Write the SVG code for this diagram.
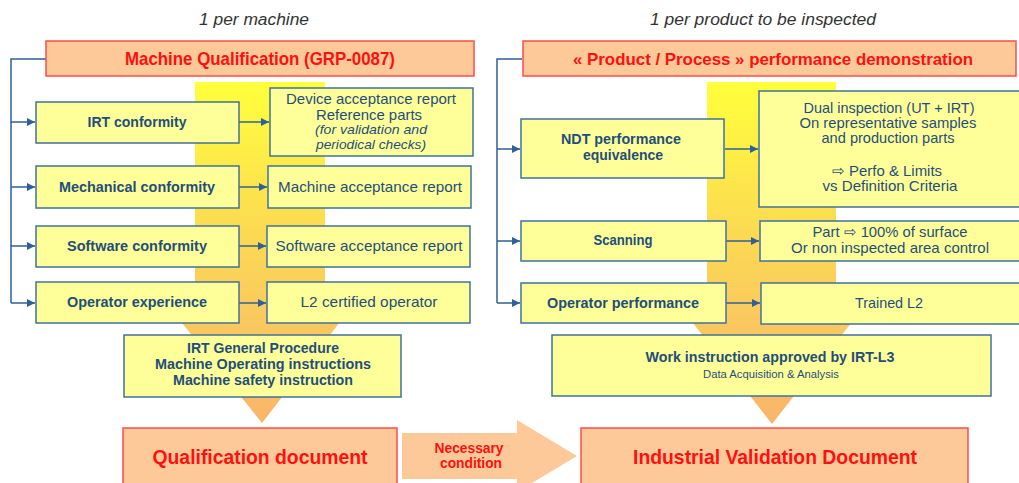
<svg xmlns="http://www.w3.org/2000/svg" width="1019" height="483" viewBox="0 0 1019 483">
  <defs>
    <linearGradient id="flowGrad" gradientUnits="userSpaceOnUse" x1="0" y1="82" x2="0" y2="424">
      <stop offset="0" stop-color="#FFFF3C"/>
      <stop offset="0.4" stop-color="#FCDD50"/>
      <stop offset="0.75" stop-color="#F9C561"/>
      <stop offset="1" stop-color="#F8B56A"/>
    </linearGradient>
    <marker id="arrowHead" viewBox="0 0 10 10" refX="10" refY="5" markerWidth="8" markerHeight="8" markerUnits="userSpaceOnUse" orient="auto">
      <path d="M0,0 L10,5 L0,10 Z" fill="#2E6096"/>
    </marker>
  </defs>
  <style>
    .hdr { fill: #FDC998; stroke: #FF4B4B; stroke-width: 1.5; }
    .box { fill: #FFFF99; stroke: #41719C; stroke-width: 1.5; }
    .t { font-family: "Liberation Sans", Arial, sans-serif; fill: #1F4E79; text-anchor: middle; }
    .b { font-weight: bold; }
    .it { font-style: italic; }
    .red { fill: #FF1010; font-weight: bold; }
    .note { font-family: "Liberation Sans", Arial, sans-serif; font-style: italic; fill: #333333; text-anchor: middle; font-size: 16px; }
    .conn { fill: none; stroke: #2E6096; stroke-width: 1.5; }
    .flow { fill: url(#flowGrad); }
  </style>

  <!-- background flow arrows -->
  <g id="flows">
    <path class="flow" d="M195,82 H325 V318 H343 L262,423 L178,318 H195 Z"/>
    <path class="flow" d="M707,82 H836 V318 H855 L772,424 L689,318 H707 Z"/>
    <path id="necessary-arrow" d="M402,433 H517 V420 L577,456 L517,492 V479 H402 Z" fill="#FDC998"/>
  </g>

  <!-- column captions -->
  <text class="note" x="254" y="25" textLength="110" lengthAdjust="spacingAndGlyphs">1 per machine</text>
  <text class="note" x="763" y="25" textLength="226" lengthAdjust="spacingAndGlyphs">1 per product to be inspected</text>

  <!-- connectors -->
  <g id="connectors">
    <path class="conn" d="M46,59 H11 V303"/>
    <path class="conn" d="M11,122 H35" marker-end="url(#arrowHead)"/>
    <path class="conn" d="M11,187 H35" marker-end="url(#arrowHead)"/>
    <path class="conn" d="M11,246 H35" marker-end="url(#arrowHead)"/>
    <path class="conn" d="M11,303 H35" marker-end="url(#arrowHead)"/>
    <path class="conn" d="M239,122 H269" marker-end="url(#arrowHead)"/>
    <path class="conn" d="M239,187 H267" marker-end="url(#arrowHead)"/>
    <path class="conn" d="M239,246 H266" marker-end="url(#arrowHead)"/>
    <path class="conn" d="M239,303 H266" marker-end="url(#arrowHead)"/>

    <path class="conn" d="M522,59 H497 V303"/>
    <path class="conn" d="M497,149 H520" marker-end="url(#arrowHead)"/>
    <path class="conn" d="M497,241 H520" marker-end="url(#arrowHead)"/>
    <path class="conn" d="M497,303 H520" marker-end="url(#arrowHead)"/>
    <path class="conn" d="M725,149 H758" marker-end="url(#arrowHead)"/>
    <path class="conn" d="M726,241 H759" marker-end="url(#arrowHead)"/>
    <path class="conn" d="M726,303 H760" marker-end="url(#arrowHead)"/>
  </g>

  <!-- machine qualification column -->
  <g id="machine-qualification">
    <rect class="hdr" x="46" y="41" width="428" height="35"/>
    <text class="t red" x="260" y="65" font-size="19" textLength="270" lengthAdjust="spacingAndGlyphs">Machine Qualification (GRP-0087)</text>
  </g>
  <g id="irt-conformity">
    <rect class="box" x="36" y="102" width="203" height="41"/>
    <text class="t b" x="137" y="127" font-size="15" textLength="99" lengthAdjust="spacingAndGlyphs">IRT conformity</text>
  </g>
  <g id="device-acceptance">
    <rect class="box" x="270" y="88" width="203" height="68"/>
    <text class="t" x="371" y="104" font-size="15" textLength="170" lengthAdjust="spacingAndGlyphs">Device acceptance report</text>
    <text class="t" x="369" y="120" font-size="15" textLength="106" lengthAdjust="spacingAndGlyphs">Reference parts</text>
    <text class="t it" x="371" y="134" font-size="13.5" textLength="112" lengthAdjust="spacingAndGlyphs">(for validation and</text>
    <text class="t it" x="371" y="149" font-size="13.5" textLength="110" lengthAdjust="spacingAndGlyphs">periodical checks)</text>
  </g>
  <g id="mechanical-conformity">
    <rect class="box" x="36" y="166" width="203" height="42"/>
    <text class="t b" x="137" y="192" font-size="15" textLength="156" lengthAdjust="spacingAndGlyphs">Mechanical conformity</text>
  </g>
  <g id="machine-acceptance">
    <rect class="box" x="268" y="166" width="203" height="42"/>
    <text class="t" x="370" y="192" font-size="15" textLength="184" lengthAdjust="spacingAndGlyphs">Machine acceptance report</text>
  </g>
  <g id="software-conformity">
    <rect class="box" x="36" y="226" width="203" height="41"/>
    <text class="t b" x="137" y="251" font-size="15" textLength="140" lengthAdjust="spacingAndGlyphs">Software conformity</text>
  </g>
  <g id="software-acceptance">
    <rect class="box" x="267" y="226" width="203" height="41"/>
    <text class="t" x="369" y="251" font-size="15" textLength="187" lengthAdjust="spacingAndGlyphs">Software acceptance report</text>
  </g>
  <g id="operator-experience">
    <rect class="box" x="36" y="282" width="203" height="41"/>
    <text class="t b" x="137" y="307" font-size="15" textLength="140" lengthAdjust="spacingAndGlyphs">Operator experience</text>
  </g>
  <g id="l2-certified">
    <rect class="box" x="267" y="282" width="203" height="41"/>
    <text class="t" x="369" y="307" font-size="15" textLength="137" lengthAdjust="spacingAndGlyphs">L2 certified operator</text>
  </g>
  <g id="general-procedure">
    <rect class="box" x="124" y="335" width="277" height="62"/>
    <text class="t b" x="263" y="353" font-size="15" textLength="152" lengthAdjust="spacingAndGlyphs">IRT General Procedure</text>
    <text class="t b" x="263" y="369" font-size="15" textLength="216" lengthAdjust="spacingAndGlyphs">Machine Operating instructions</text>
    <text class="t b" x="263" y="385" font-size="15" textLength="180" lengthAdjust="spacingAndGlyphs">Machine safety instruction</text>
  </g>
  <g id="qualification-document">
    <rect class="hdr" x="123" y="428" width="274" height="64"/>
    <text class="t red" x="260" y="464" font-size="21" textLength="215" lengthAdjust="spacingAndGlyphs">Qualification document</text>
  </g>
  <g id="necessary-condition">
    <text class="t red" x="469" y="453" font-size="14" textLength="69" lengthAdjust="spacingAndGlyphs">Necessary</text>
    <text class="t red" x="471" y="468" font-size="14" textLength="62" lengthAdjust="spacingAndGlyphs">condition</text>
  </g>

  <!-- product / process column -->
  <g id="performance-demonstration">
    <rect class="hdr" x="523" y="41" width="493" height="35"/>
    <text class="t red" x="773" y="65" font-size="17" textLength="400" lengthAdjust="spacingAndGlyphs">« Product / Process » performance demonstration</text>
  </g>
  <g id="ndt-equivalence">
    <rect class="box" x="521" y="119" width="203" height="59"/>
    <text class="t b" x="621" y="144" font-size="15" textLength="120" lengthAdjust="spacingAndGlyphs">NDT performance</text>
    <text class="t b" x="623" y="160" font-size="15" textLength="80" lengthAdjust="spacingAndGlyphs">equivalence</text>
  </g>
  <g id="dual-inspection">
    <rect class="box" x="759" y="91" width="262" height="116"/>
    <text class="t" x="889" y="113" font-size="15" textLength="171" lengthAdjust="spacingAndGlyphs">Dual inspection (UT + IRT)</text>
    <text class="t" x="888" y="128" font-size="15" textLength="177" lengthAdjust="spacingAndGlyphs">On representative samples</text>
    <text class="t" x="888" y="143" font-size="15" textLength="133" lengthAdjust="spacingAndGlyphs">and production parts</text>
    <text class="t" x="887" y="176" font-size="15" textLength="110" lengthAdjust="spacingAndGlyphs">⇨ Perfo &amp; Limits</text>
    <text class="t" x="890" y="191" font-size="15" textLength="135" lengthAdjust="spacingAndGlyphs">vs Definition Criteria</text>
  </g>
  <g id="scanning">
    <rect class="box" x="521" y="221" width="205" height="40"/>
    <text class="t b" x="623" y="245" font-size="15" textLength="59" lengthAdjust="spacingAndGlyphs">Scanning</text>
  </g>
  <g id="surface-coverage">
    <rect class="box" x="760" y="221" width="261" height="40"/>
    <text class="t" x="890" y="237" font-size="15" textLength="155" lengthAdjust="spacingAndGlyphs">Part ⇨ 100% of surface</text>
    <text class="t" x="890" y="253" font-size="15" textLength="198" lengthAdjust="spacingAndGlyphs">Or non inspected area control</text>
  </g>
  <g id="operator-performance">
    <rect class="box" x="521" y="283" width="205" height="40"/>
    <text class="t b" x="623" y="308" font-size="15" textLength="152" lengthAdjust="spacingAndGlyphs">Operator performance</text>
  </g>
  <g id="trained-l2">
    <rect class="box" x="761" y="283" width="260" height="41"/>
    <text class="t" x="889" y="308" font-size="15" textLength="68" lengthAdjust="spacingAndGlyphs">Trained L2</text>
  </g>
  <g id="work-instruction">
    <rect class="box" x="552" y="335" width="439" height="61"/>
    <text class="t b" x="770" y="362" font-size="15" textLength="249" lengthAdjust="spacingAndGlyphs">Work instruction approved by IRT-L3</text>
    <text class="t" x="771" y="378" font-size="10" textLength="136" lengthAdjust="spacingAndGlyphs">Data Acquisition &amp; Analysis</text>
  </g>
  <g id="industrial-validation">
    <rect class="hdr" x="581" y="428" width="387" height="64"/>
    <text class="t red" x="775" y="464" font-size="21" textLength="284" lengthAdjust="spacingAndGlyphs">Industrial Validation Document</text>
  </g>
</svg>
